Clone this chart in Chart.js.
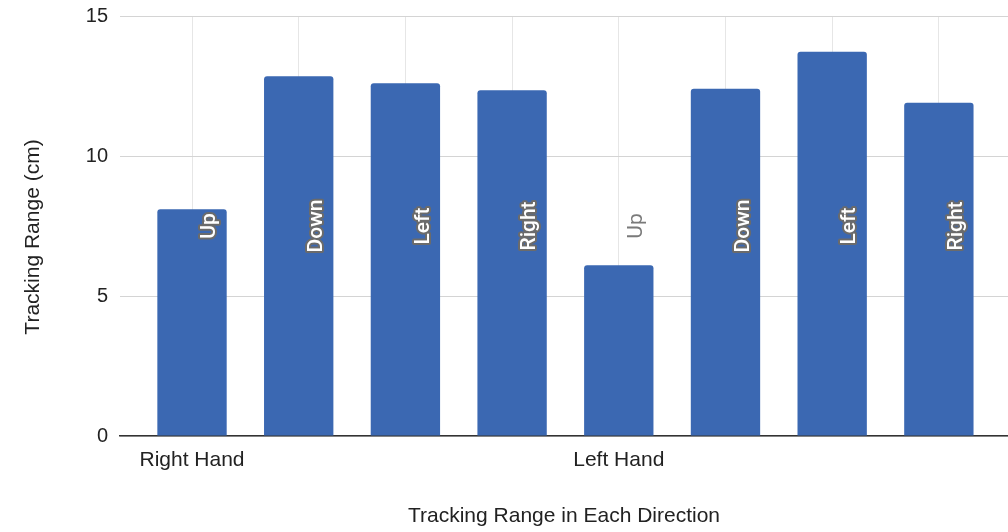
<!DOCTYPE html>
<html>
<head>
<meta charset="utf-8">
<script src="https://cdn.jsdelivr.net/npm/chart.js@4/dist/chart.umd.min.js"></script>
<style>
  html, body { margin: 0; padding: 0; background: #ffffff; }
  #wrap { width: 1008px; height: 532px; position: relative; }
</style>
</head>
<body>
<div id="wrap"><canvas id="chart" width="1008" height="532"></canvas></div>
<script>
// Direction measured for each bar
const directions = ['Up', 'Down', 'Left', 'Right', 'Up', 'Down', 'Left', 'Right'];
// Hand group label shown under the first bar of each group
const handLabels = ['Right Hand', '', '', '', 'Left Hand', '', '', ''];
// Tracking range in cm
const trackingRange = [8.1, 12.85, 12.6, 12.35, 6.1, 12.4, 13.72, 11.9];
// Value axis ticks
const yTicks = [0, 5, 10, 15];

const xTitle = 'Tracking Range in Each Direction';
const yTitle = 'Tracking Range (cm)';

const BAR_COLOR = '#3b68b2';
const FONT = '"Liberation Sans", Arial, sans-serif';

// Axis titles drawn at fixed offsets from the plot area
const axisTitles = {
  id: 'axisTitles',
  afterDraw(chart) {
    const { ctx, chartArea } = chart;
    ctx.save();
    ctx.fillStyle = '#222222';
    ctx.font = '21px ' + FONT;
    ctx.textAlign = 'center';
    ctx.textBaseline = 'middle';
    ctx.fillText(xTitle, (chartArea.left + chartArea.right) / 2, chartArea.bottom + 80);
    ctx.translate(33, chartArea.top + 221);
    ctx.rotate(-Math.PI / 2);
    ctx.fillText(yTitle, 0, 0);
    ctx.restore();
  }
};

// Rotated direction labels, centred vertically in the plot area
const directionLabels = {
  id: 'directionLabels',
  afterDatasetsDraw(chart) {
    const { ctx, chartArea } = chart;
    const meta = chart.getDatasetMeta(0);
    const midY = (chartArea.top + chartArea.bottom) / 2;
    ctx.save();
    ctx.font = '500 21px Roboto, "Open Sans", sans-serif';
    ctx.textAlign = 'center';
    ctx.textBaseline = 'middle';
    meta.data.forEach((bar, i) => {
      const text = directions[i];
      const w = ctx.measureText(text).width;
      const inside = bar.y <= midY - w / 2 - 2;
      ctx.save();
      ctx.translate(bar.x + 18, midY);
      ctx.rotate(-Math.PI / 2);
      if (inside) {
        ctx.lineJoin = 'round';
        ctx.lineWidth = 4;
        ctx.strokeStyle = '#6b6b6b';
        ctx.strokeText(text, 0, 0);
        ctx.fillStyle = '#ffffff';
        ctx.fillText(text, 0, 0);
      } else {
        ctx.font = '21px Roboto, "Open Sans", sans-serif';
        ctx.fillStyle = '#7a7a7a';
        ctx.fillText(text, 0, 0);
      }
      ctx.restore();
    });
    ctx.restore();
  }
};

const points = trackingRange.map((v, i) => ({ x: i, y: v }));

new Chart(document.getElementById('chart'), {
  type: 'bar',
  data: {
    datasets: [{
      data: points,
      backgroundColor: BAR_COLOR,
      borderWidth: 0,
      borderRadius: { topLeft: 3, topRight: 3, bottomLeft: 0, bottomRight: 0 },
      borderSkipped: 'start',
      categoryPercentage: 1,
      barPercentage: 0.65
    }]
  },
  options: {
    responsive: false,
    animation: false,
    devicePixelRatio: 1,
    layout: { padding: { top: 16, right: 0, left: 0, bottom: 0 } },
    plugins: {
      legend: { display: false },
      tooltip: { enabled: false }
    },
    scales: {
      x: {
        type: 'linear',
        offset: false,
        min: -0.675,
        max: 7.648,
        afterBuildTicks(scale) {
          scale.ticks = directions.map((_, i) => ({ value: i }));
        },
        afterFit(scale) { scale.height = 96; },
        ticks: {
          autoSkip: false,
          maxRotation: 0,
          padding: 12,
          color: '#222222',
          font: { family: FONT, size: 21 },
          callback: (v) => handLabels[v] || ''
        },
        grid: { offset: false, color: '#e6e6e6', lineWidth: 1, drawTicks: false },
        border: { display: true, color: '#333333', width: 1.5 }
      },
      y: {
        min: 0,
        max: 15,
        afterBuildTicks(scale) {
          scale.ticks = yTicks.map(v => ({ value: v }));
        },
        afterFit(scale) { scale.width = 120; },
        ticks: {
          padding: 12,
          color: '#222222',
          font: { family: FONT, size: 20, lineHeight: 0.4 }
        },
        grid: { color: '#d4d4d4', lineWidth: 1, drawTicks: false },
        border: { display: false }
      }
    }
  },
  plugins: [directionLabels, axisTitles]
});
</script>
</body>
</html>
